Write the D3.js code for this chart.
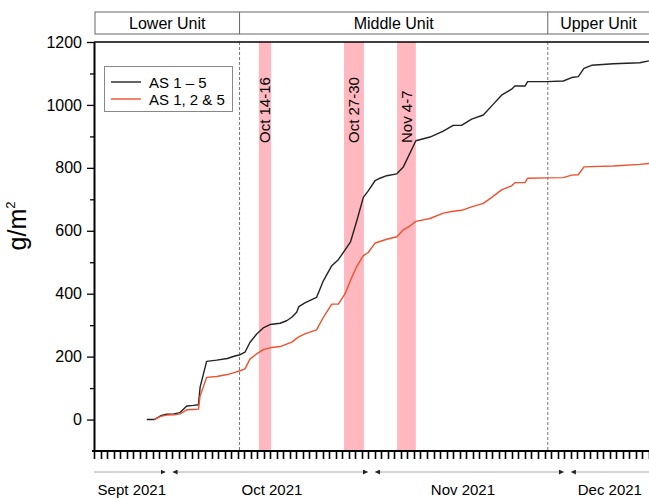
<!DOCTYPE html>
<html>
<head>
<meta charset="utf-8">
<script src="https://cdn.jsdelivr.net/npm/d3@7"></script>
<style>
  body { margin: 0; background: #fff; }
  text { font-family: "Liberation Sans", Arial, sans-serif; fill: #000; }
</style>
</head>
<body>
<svg width="649" height="498"></svg>
<script>
// sampling times shared by both series
const times = ["2021-09-27T02","2021-09-28T05","2021-09-29T05","2021-09-30T03","2021-10-01T06","2021-10-02T04",
  "2021-10-03T05","2021-10-04T05","2021-10-05T00","2021-10-05T06","2021-10-06T06","2021-10-07T19","2021-10-09T10",
  "2021-10-10T14","2021-10-11T09","2021-10-12T03","2021-10-12T21","2021-10-13T22","2021-10-14T22","2021-10-15T23",
  "2021-10-17T12","2021-10-18T12","2021-10-19T07","2021-10-20T01","2021-10-20T09","2021-10-21T07","2021-10-23T02",
  "2021-10-24T03","2021-10-25T10","2021-10-26T10","2021-10-27T11","2021-10-28T07","2021-10-29T06","2021-10-30T06",
  "2021-10-31T00","2021-11-01T01","2021-11-01T19","2021-11-02T20","2021-11-04T09","2021-11-05T09","2021-11-06T09",
  "2021-11-07T07","2021-11-09T11","2021-11-11T12","2021-11-13T00","2021-11-14T07","2021-11-15T20","2021-11-17T15",
  "2021-11-18T22","2021-11-20T10","2021-11-21T23","2021-11-22T11","2021-11-24T00","2021-11-24T10","2021-11-27T08",
  "2021-11-29T21","2021-12-01T04","2021-12-02T04","2021-12-03T01","2021-12-04T05","2021-12-07T13","2021-12-11T14",
  "2021-12-13T00"];

const as15 = [0,0,12,17,18,22,43,45,47,103,185,189,194,202,206,214,245,272,291,302,306,314,325,341,359,371,388,441,
  489,508,539,565,632,706,727,759,767,775,781,803,846,886,898,917,935,935,955,968,997,1031,1050,1060,1060,1074,1074,
  1076,1087,1090,1116,1126,1131,1134,1140];

const as125 = [null,0,10,14,15,18,31,32,33,75,134,137,143,150,155,161,192,209,222,228,232,240,246,258,263,272,285,
  325,367,367,400,443,487,521,531,561,566,573,581,603,615,630,639,656,662,665,676,687,706,730,743,753,753,767,768,
  769,777,778,803,804,806,811,814];

const seriesNames = ["AS 1 \u2013 5", "AS 1, 2 & 5"];
const seriesColors = ["#222", "#f0502d"];

const unitNames = ["Lower Unit", "Middle Unit", "Upper Unit"];
const unitBreaks = ["2021-10-11T07", "2021-11-27T12"];

const eventLabels = ["Oct 14-16", "Oct 27-30", "Nov 4-7"];
const eventStarts = ["2021-10-14T06", "2021-10-27T07", "2021-11-04T10"];
const eventEnds = ["2021-10-16T03", "2021-10-30T08", "2021-11-07T07"];

const monthLabels = ["Sept 2021", "Oct 2021", "Nov 2021", "Dec 2021"];
const monthStarts = ["2021-09-01T00", "2021-10-01T00", "2021-11-01T00", "2021-12-01T00"];
const monthLabelAt = ["2021-09-24T19", "2021-10-16T06", "2021-11-14T12", "2021-12-07T00"];

const yTicks = [0, 200, 400, 600, 800, 1000, 1200];
const yMinor = [100, 300, 500, 700, 900, 1100];

const parse = d3.timeParse("%Y-%m-%dT%H");

const svg = d3.select("svg");
const pLeft = 94, pRight = 649, pTop = 42, pBottom = 451;

const xStart = parse("2021-09-19T00"), xEnd = parse("2021-12-13T00");
const x = d3.scaleTime()
  .domain([xStart, xEnd])
  .range([pLeft, pRight]);

const y = d3.scaleLinear()
  .domain([-100, 1200])
  .range([pBottom, pTop]);

const defs = svg.append("defs");
defs.append("clipPath").attr("id", "plot")
  .append("rect").attr("x", pLeft).attr("y", pTop).attr("width", pRight - pLeft).attr("height", pBottom - pTop);

// event bands
svg.append("g").attr("clip-path", "url(#plot)")
  .selectAll("rect")
  .data(eventLabels)
  .join("rect")
    .attr("x", (d, i) => x(parse(eventStarts[i])))
    .attr("width", (d, i) => x(parse(eventEnds[i])) - x(parse(eventStarts[i])))
    .attr("y", pTop)
    .attr("height", pBottom - pTop)
    .attr("fill", "#ffb8c0");

svg.append("g")
  .selectAll("text")
  .data(eventLabels)
  .join("text")
    .attr("transform", (d, i) => {
      const cx = (x(parse(eventStarts[i])) + x(parse(eventEnds[i]))) / 2;
      return `translate(${cx + 5.5},143) rotate(-90)`;
    })
    .attr("font-size", 15)
    .text(d => d);

// unit boundaries
svg.append("g")
  .selectAll("line")
  .data(unitBreaks)
  .join("line")
    .attr("x1", d => x(parse(d)))
    .attr("x2", d => x(parse(d)))
    .attr("y1", pTop)
    .attr("y2", pBottom)
    .attr("stroke", "#777")
    .attr("stroke-width", 1)
    .attr("stroke-dasharray", "3,2");

// header with units
const hTop = 12, hBottom = 34;
const edges = [pLeft + 1, ...unitBreaks.map(d => x(parse(d))), pRight + 5];
const header = svg.append("g");
header.append("rect")
  .attr("x", edges[0]).attr("y", hTop)
  .attr("width", edges[3] - edges[0]).attr("height", hBottom - hTop)
  .attr("fill", "none").attr("stroke", "#666");
header.selectAll("line")
  .data(unitBreaks)
  .join("line")
    .attr("x1", d => x(parse(d))).attr("x2", d => x(parse(d)))
    .attr("y1", hTop).attr("y2", hBottom)
    .attr("stroke", "#666");
header.selectAll("text")
  .data(unitNames)
  .join("text")
    .attr("x", (d, i) => (edges[i] + Math.min(edges[i + 1], pRight)) / 2)
    .attr("y", 29)
    .attr("text-anchor", "middle")
    .attr("font-size", 16)
    .text(d => d);

// lines
const series = [as15, as125].map(vals => times.map((t, i) => ({t: parse(t), v: vals[i]})));
const line = d3.line()
  .defined(d => d.v != null)
  .x(d => x(d.t))
  .y(d => y(d.v));

svg.append("g").attr("clip-path", "url(#plot)")
  .selectAll("path")
  .data(series)
  .join("path")
    .attr("d", line)
    .attr("fill", "none")
    .attr("stroke", (d, i) => seriesColors[i])
    .attr("stroke-width", 1.4)
    .attr("stroke-linejoin", "round");

// frame top
svg.append("line")
  .attr("x1", pLeft).attr("x2", pRight).attr("y1", pTop).attr("y2", pTop)
  .attr("stroke", "#000").attr("stroke-width", 1.5);

// axes
const yAxis = svg.append("g")
  .attr("transform", `translate(${pLeft},0)`)
  .call(d3.axisLeft(y).tickValues(yTicks).tickFormat(d3.format("d")).tickSize(7).tickPadding(5).tickSizeOuter(0));
yAxis.select(".domain").attr("stroke-width", 2);
yAxis.selectAll(".tick line").attr("stroke-width", 1.3);
yAxis.selectAll(".tick text").attr("font-size", 16).attr("font-family", "Liberation Sans, Arial, sans-serif");

svg.append("g")
  .attr("transform", `translate(${pLeft},0)`)
  .call(d3.axisLeft(y).tickValues(yMinor).tickSize(4).tickFormat(""))
  .call(g => g.select(".domain").remove())
  .selectAll(".tick line").attr("stroke-width", 1.3);

// daily ticks on the date axis
const days = d3.timeDay.range(xStart, d3.timeHour.offset(xEnd, 1));
const xAxis = svg.append("g")
  .attr("transform", `translate(0,${pBottom})`);
xAxis.selectAll("line")
  .data(days)
  .join("line")
    .attr("x1", d => Math.round(x(d)) + 0.5).attr("x2", d => Math.round(x(d)) + 0.5)
    .attr("y1", 0).attr("y2", 8)
    .attr("stroke", "#000")
    .attr("stroke-width", 1.6);
xAxis.append("line")
  .attr("x1", pLeft - 2).attr("x2", pRight)
  .attr("stroke", "#000")
  .attr("stroke-width", 2);

svg.append("text")
  .attr("transform", `translate(26,226) rotate(-90)`)
  .attr("text-anchor", "middle")
  .attr("font-size", 25)
  .text("g/m")
  .append("tspan")
    .attr("dy", -11)
    .attr("font-size", 13)
    .text("2");

// month arrows
defs.append("marker")
  .attr("id", "head")
  .attr("viewBox", "0 0 6 6")
  .attr("refX", 6).attr("refY", 3)
  .attr("markerWidth", 5).attr("markerHeight", 5)
  .attr("markerUnits", "userSpaceOnUse")
  .attr("orient", "auto-start-reverse")
  .append("path").attr("d", "M0,0L6,3L0,6Z").attr("fill", "#222");

const bounds = monthStarts.slice(1).map(d => x(d3.timeHour.offset(parse(d), -12)));
const arrowY = 472;
svg.append("g")
  .selectAll("line")
  .data(monthLabels)
  .join("line")
    .attr("x1", (d, i) => i === 0 ? pLeft : bounds[i - 1] + 3.5)
    .attr("x2", (d, i) => i === monthLabels.length - 1 ? pRight + 10 : bounds[i] - 3.5)
    .attr("y1", arrowY).attr("y2", arrowY)
    .attr("stroke", "#aaa").attr("stroke-width", 1)
    .attr("marker-start", (d, i) => i === 0 ? null : "url(#head)")
    .attr("marker-end", (d, i) => i === monthLabels.length - 1 ? null : "url(#head)");

svg.append("g")
  .selectAll("text")
  .data(monthLabels)
  .join("text")
    .attr("x", (d, i) => x(parse(monthLabelAt[i])))
    .attr("y", 495)
    .attr("text-anchor", "middle")
    .attr("font-size", 15)
    .text(d => d);

// legend
const legend = svg.append("g");
legend.append("rect")
  .attr("x", 104.5).attr("y", 66.5).attr("width", 128).attr("height", 45)
  .attr("fill", "#fff").attr("stroke", "#888");
const rows = legend.selectAll("g")
  .data(seriesNames)
  .join("g")
    .attr("transform", (d, i) => `translate(111,${82 + i * 17})`);
rows.append("line")
  .attr("x2", 30)
  .attr("stroke", (d, i) => seriesColors[i])
  .attr("stroke-width", 1.4);
rows.append("text")
  .attr("x", 38).attr("y", 5.5)
  .attr("font-size", 15)
  .text(d => d);
</script>
</body>
</html>
